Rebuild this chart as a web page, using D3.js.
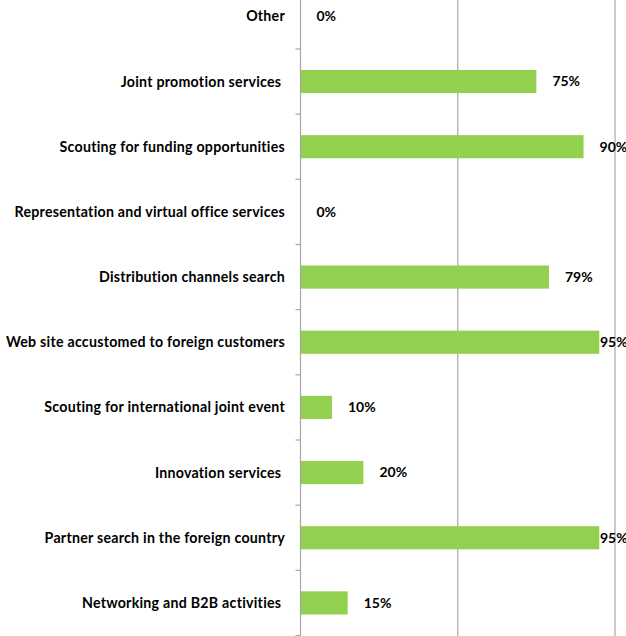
<!DOCTYPE html>
<meta charset="utf-8">
<script src="https://d3js.org/d3.v7.min.js"></script>
<style>
  body { margin: 0; background: #fff; }
  text { font-family: Lato, "Open Sans", sans-serif; font-weight: bold; fill: #000; white-space: pre; }
</style>
<div id="chart"></div>
<script>
// categories top to bottom, as shown
const categories = [
  "Other",
  "Joint promotion services ",
  "Scouting for funding opportunities",
  "Representation and virtual office services",
  "Distribution channels search",
  "Web site accustomed to foreign customers",
  "Scouting for international joint event",
  "Innovation services ",
  "Partner search in the foreign country",
  "Networking and B2B activities "
];
const values = [0, 75, 90, 0, 79, 95, 10, 20, 95, 15];
const gridTicks = [50, 100];

const width = 626, height = 636;
const x0 = 300.5, x100 = 615;
const yTop = -16.2, yBottom = 635.5;

const svg = d3.select("#chart").append("svg")
    .attr("width", width)
    .attr("height", height);

const x = d3.scaleLinear().domain([0, 100]).range([x0, x100]);
const y = d3.scaleBand().domain(categories).range([yTop, yBottom]).paddingInner(0.645).paddingOuter(0.3225);

// gridlines
svg.append("g").selectAll("line")
    .data(gridTicks)
    .enter().append("line")
    .attr("x1", d => x(d)).attr("x2", d => x(d))
    .attr("y1", 0).attr("y2", height)
    .attr("stroke", "#a6a6a6")
    .attr("stroke-width", 1.2);

// bars
svg.append("g").selectAll("rect")
    .data(values)
    .enter().append("rect")
    .attr("x", x(0))
    .attr("y", (d, i) => y(categories[i]))
    .attr("width", d => x(d) - x(0))
    .attr("height", y.bandwidth())
    .attr("fill", "#92d050");

// category axis
const step = y.step();
const axis = svg.append("g");
axis.append("line")
    .attr("x1", x0).attr("x2", x0)
    .attr("y1", 0).attr("y2", yBottom)
    .attr("stroke", "#a6a6a6")
    .attr("stroke-width", 1.2);
axis.selectAll(".tick")
    .data(d3.range(1, categories.length + 1))
    .enter().append("line")
    .attr("x1", x0 - 5).attr("x2", x0)
    .attr("y1", i => yTop + i * step).attr("y2", i => yTop + i * step)
    .attr("stroke", "#a6a6a6")
    .attr("stroke-width", 1.2);

axis.selectAll(".cat")
    .data(categories)
    .enter().append("text")
    .attr("x", 285)
    .attr("y", d => y(d) + y.bandwidth() / 2)
    .attr("dy", "0.35em")
    .attr("text-anchor", "end")
    .style("font-size", "14.2px")
    .style("letter-spacing", "0.25px")
    .text(d => d);

// value labels
svg.append("g").selectAll("text")
    .data(values)
    .enter().append("text")
    .attr("x", d => Math.min(x(d) + 16, 600))
    .attr("y", (d, i) => y(categories[i]) + y.bandwidth() / 2)
    .attr("dy", "0.35em")
    .style("font-size", "14px")
    .text(d => d + "%");
</script>
